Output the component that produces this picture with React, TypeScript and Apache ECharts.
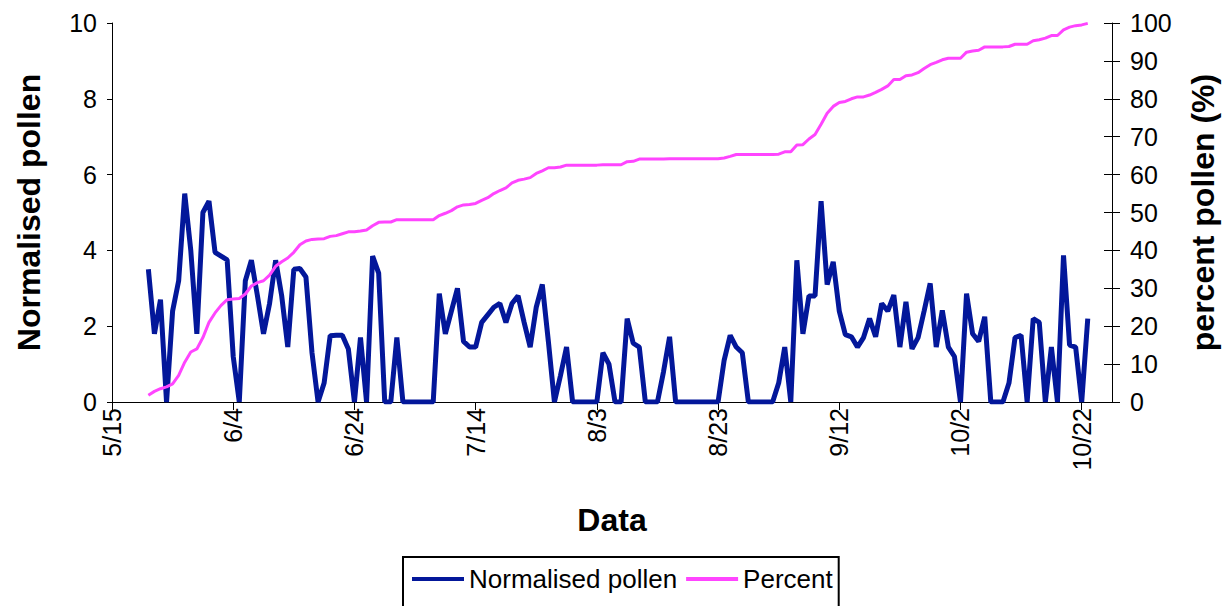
import React, { useEffect, useRef } from 'react';
import * as echarts from 'echarts';

// x axis: days counted from 5/15 (day 0); a tick every 20 days
const tickLabels = ['5/15', '6/4', '6/24', '7/14', '8/3', '8/23', '9/12', '10/2', '10/22'];
const xMax = 165;
const firstDay = 6; // first sample is 5/21, then one value per day

const pollen = [
  3.5, 1.8, 2.7, 0, 2.4, 3.2, 5.5, 4.0, 1.8, 5.0,
  5.3, 3.95, 3.85, 3.75, 1.2, 0, 3.2, 3.74, 2.8, 1.8,
  2.6, 3.74, 2.8, 1.45, 3.5, 3.52, 3.3, 1.3, 0, 0.5,
  1.75, 1.76, 1.76, 1.4, 0, 1.7, 0, 3.85, 3.4, 0,
  0, 1.7, 0, 0, 0, 0, 0, 0, 2.86, 1.8,
  2.4, 3.0, 1.6, 1.45, 1.45, 2.1, 2.3, 2.5, 2.6, 2.1,
  2.6, 2.8, 2.1, 1.45, 2.5, 3.1, 1.6, 0, 0.7, 1.45,
  0, 0, 0, 0, 0, 1.3, 1.0, 0, 0, 2.2,
  1.55, 1.45, 0, 0, 0, 0.8, 1.72, 0, 0, 0,
  0, 0, 0, 0, 0, 1.1, 1.76, 1.45, 1.3, 0,
  0, 0, 0, 0, 0.5, 1.45, 0, 3.74, 1.8, 2.8,
  2.8, 5.3, 3.1, 3.7, 2.4, 1.78, 1.72, 1.45, 1.7, 2.2,
  1.72, 2.6, 2.4, 2.82, 1.45, 2.64, 1.4, 1.7, 2.4, 3.13,
  1.45, 2.42, 1.45, 1.2, 0, 2.86, 1.8, 1.6, 2.25, 0,
  0, 0, 0.5, 1.7, 1.76, 0, 2.2, 2.1, 0, 1.45,
  0, 3.87, 1.5, 1.45, 0, 2.2,
];

const percent = [
  1.8, 2.8, 3.5, 4.0, 4.8, 7.0, 10.5, 13.2, 14.0, 17.0,
  21.0, 23.5, 25.5, 27.0, 27.2, 27.3, 28.5, 30.6, 31.5, 32.0,
  33.5, 35.8, 37.0, 38.0, 39.5, 41.5, 42.5, 42.9, 43.0, 43.1,
  43.7, 43.9, 44.4, 44.9, 44.9, 45.1, 45.4, 46.5, 47.4, 47.5,
  47.5, 48.1, 48.1, 48.1, 48.1, 48.1, 48.1, 48.1, 49.2, 49.8,
  50.5, 51.5, 52.0, 52.1, 52.4, 53.2, 53.9, 55.0, 55.8, 56.5,
  57.8, 58.5, 58.8, 59.2, 60.3, 61.0, 61.8, 61.8, 62.0, 62.5,
  62.5, 62.5, 62.5, 62.5, 62.5, 62.6, 62.6, 62.6, 62.6, 63.4,
  63.5, 64.1, 64.1, 64.1, 64.1, 64.1, 64.2, 64.2, 64.2, 64.2,
  64.2, 64.2, 64.2, 64.2, 64.2, 64.4, 64.8, 65.3, 65.3, 65.3,
  65.3, 65.3, 65.3, 65.3, 65.4, 66.0, 66.0, 67.8, 67.9, 69.4,
  70.6, 73.3, 76.2, 78.0, 79.0, 79.3, 80.0, 80.5, 80.5, 81.0,
  81.7, 82.5, 83.4, 85.1, 85.1, 86.1, 86.3, 86.9, 88.0, 89.0,
  89.6, 90.3, 90.7, 90.7, 90.7, 92.3, 92.6, 92.8, 93.7, 93.7,
  93.7, 93.7, 93.8, 94.4, 94.4, 94.4, 95.3, 95.6, 96.0, 96.7,
  96.7, 98.2, 98.9, 99.3, 99.5, 99.9,
];

const seriesNames = ['Normalised pollen', 'Percent'];
const axisTitles = { x: 'Data', left: 'Normalised pollen', right: 'percent pollen (%)' };

export default function App() {
  const ref = useRef<HTMLDivElement>(null);
  useEffect(() => {
    const chart = echarts.init(ref.current!, null, { renderer: 'svg' });
    const font = "'Liberation Sans', Arial, sans-serif";
    const black = '#000';
    const labelStyle = { fontFamily: font, fontSize: 25, color: black };
    const titleStyle = { fontFamily: font, fontSize: 32, fontWeight: 'bold' as const, color: black };
    chart.setOption({
      animation: false,
      backgroundColor: '#fff',
      grid: { left: 112, right: 119, top: 23, bottom: 204, containLabel: false, outerBoundsMode: 'none' },
      legend: {
        data: seriesNames,
        left: 403,
        top: 557,
        padding: [9, 6, 30, 9],
        itemWidth: 52,
        itemHeight: 4,
        itemGap: 9,
        icon: 'rect',
        borderColor: black,
        borderWidth: 2,
        textStyle: { fontFamily: font, fontSize: 26, color: black },
      },
      xAxis: {
        type: 'value',
        min: 0,
        max: xMax,
        interval: 20,
        name: axisTitles.x,
        nameLocation: 'middle',
        nameGap: 102,
        nameTextStyle: titleStyle,
        axisLine: { show: true, lineStyle: { color: black, width: 1 } },
        axisTick: { show: true, length: 8, lineStyle: { color: black } },
        splitLine: { show: false },
        axisLabel: {
          ...labelStyle,
          rotate: 90,
          margin: 6,
          showMaxLabel: false,
          formatter: (v: number) => (v % 20 === 0 ? tickLabels[v / 20] ?? '' : ''),
        },
      },
      yAxis: [
        {
          type: 'value',
          position: 'left',
          min: 0,
          max: 10,
          interval: 2,
          name: axisTitles.left,
          nameLocation: 'middle',
          nameGap: 67,
          nameTextStyle: titleStyle,
          axisLine: { show: true, lineStyle: { color: black, width: 1 } },
          axisTick: { show: true, length: 5, lineStyle: { color: black } },
          splitLine: { show: false },
          axisLabel: { ...labelStyle, margin: 15 },
        },
        {
          type: 'value',
          position: 'right',
          min: 0,
          max: 100,
          interval: 10,
          name: axisTitles.right,
          nameLocation: 'middle',
          nameGap: 75,
          nameTextStyle: titleStyle,
          axisLine: { show: true, lineStyle: { color: black, width: 1 } },
          axisTick: { show: true, length: 8, lineStyle: { color: black } },
          splitLine: { show: false },
          axisLabel: { ...labelStyle, margin: 18 },
        },
        {
          type: 'value',
          position: 'right',
          min: 0,
          max: 100,
          interval: 10,
          axisLine: { show: false },
          axisTick: { show: true, inside: true, length: 8, lineStyle: { color: black } },
          splitLine: { show: false },
          axisLabel: { show: false },
        },
      ],
      series: [
        {
          name: seriesNames[0],
          type: 'line',
          yAxisIndex: 0,
          showSymbol: false,
          symbol: 'none',
          color: '#03179a',
          lineStyle: { color: '#03179a', width: 5 },
          data: pollen.map((v, i) => [firstDay + i, v]),
        },
        {
          name: seriesNames[1],
          type: 'line',
          yAxisIndex: 1,
          showSymbol: false,
          symbol: 'none',
          color: '#ff45ff',
          lineStyle: { color: '#ff45ff', width: 3 },
          data: percent.map((v, i) => [firstDay + i, v]),
        },
      ],
    });
    return () => chart.dispose();
  }, []);
  return (
    <div
      ref={ref}
      style={{ position: 'absolute', left: 0, top: 0, width: 1231, height: 606 }}
    />
  );
}
